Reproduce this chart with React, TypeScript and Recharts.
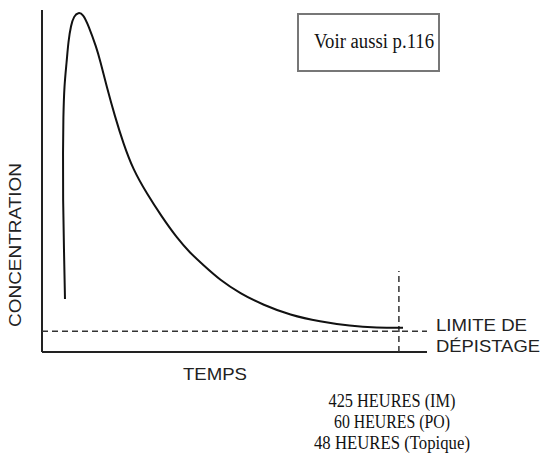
import { LineChart, Line, XAxis, YAxis, ReferenceLine, Customized } from "recharts";

// time (arbitrary units, 0-100) and concentration (0-100)
const temps = [5.97, 5.71, 5.45, 5.45, 5.53, 5.79, 6.42, 6.83, 7.53, 8.31, 9.43, 10.65, 12.03, 14.21, 15.06, 16.81, 18.96, 21.12, 23.71, 27.19, 31.09, 35.14, 38.44, 41.9, 46.23, 51.43, 57.48, 64.42, 72.21, 80.0, 86.94, 93.77];
const concentration = [15.5, 29.82, 44.44, 59.06, 68.42, 78.07, 84.88, 90.73, 95.61, 98.25, 99.33, 98.83, 95.61, 88.8, 85.38, 77.57, 68.8, 61.02, 53.22, 46.4, 39.56, 33.2, 29.0, 25.44, 21.05, 17.16, 13.74, 10.82, 8.86, 7.6, 7.11, 7.11];

const limiteDepistage = 6.1;
const finDepistage = 92.7;
const hauteurRepere = 23.7;

const durees = ["425 HEURES (IM)", "60 HEURES (PO)", "48 HEURES (Topique)"];
const dureesLargeur = [127, 116, 156];

const data = temps.map((t, i) => ({ t, c: concentration[i] }));

const sans = "'Liberation Sans', Arial, sans-serif";
const serif = "'Liberation Serif', 'Times New Roman', serif";

function Labels() {
  return (
    <g>
      <text x={21} y={245} transform="rotate(-90 21 245)" textAnchor="middle" fontFamily={sans} fontSize={17} fill="#222" textLength={164} lengthAdjust="spacingAndGlyphs">
        CONCENTRATION
      </text>
      <text x={183} y={380} fontFamily={sans} fontSize={17} fill="#222" textLength={64} lengthAdjust="spacingAndGlyphs">
        TEMPS
      </text>
      <text x={436} y={331} fontFamily={sans} fontSize={17} fill="#222" textLength={91} lengthAdjust="spacingAndGlyphs">
        LIMITE DE
      </text>
      <text x={436} y={352} fontFamily={sans} fontSize={17} fill="#222" textLength={104} lengthAdjust="spacingAndGlyphs">
        DÉPISTAGE
      </text>
      {durees.map((d, i) => (
        <text key={d} x={392 - dureesLargeur[i] / 2} y={407 + i * 21} fontFamily={serif} fontSize={19} fill="#111" textLength={dureesLargeur[i]} lengthAdjust="spacingAndGlyphs">
          {d}
        </text>
      ))}
      <rect x={298} y={14} width={141} height={57} fill="#fff" stroke="#777" strokeWidth={2} />
      <text x={314} y={48} fontFamily={serif} fontSize={20} fill="#111" textLength={120} lengthAdjust="spacingAndGlyphs">
        Voir aussi p.116
      </text>
    </g>
  );
}

export default function App() {
  return (
    <div style={{ position: "absolute", left: 0, top: 0, width: 546, height: 456, background: "#fff" }}>
      <LineChart width={546} height={456} data={data} margin={{ top: 10, right: 119, bottom: 104, left: 42 }}>
        <XAxis dataKey="t" type="number" domain={[0, 100]} hide />
        <YAxis type="number" domain={[0, 100]} hide />
        <ReferenceLine x={0} stroke="#222" strokeWidth={2} />
        <ReferenceLine y={0} stroke="#222" strokeWidth={2} />
        <ReferenceLine y={limiteDepistage} stroke="#333" strokeWidth={1.5} strokeDasharray="6 4" />
        <ReferenceLine
          segment={[
            { x: finDepistage, y: 0 },
            { x: finDepistage, y: hauteurRepere },
          ]}
          stroke="#333"
          strokeWidth={1.5}
          strokeDasharray="6 4"
        />
        <Line dataKey="c" type="basis" stroke="#111" strokeWidth={2} dot={false} isAnimationActive={false} />
        <Customized component={Labels} />
      </LineChart>
    </div>
  );
}
